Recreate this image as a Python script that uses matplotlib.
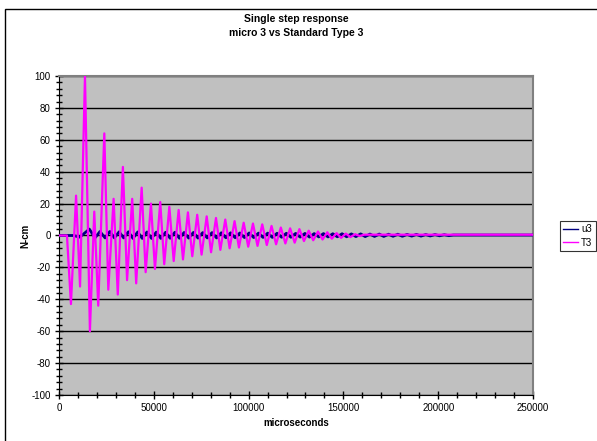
import numpy as np
import matplotlib
matplotlib.use("Agg")
import matplotlib.pyplot as plt
from matplotlib.patches import Rectangle
from matplotlib.ticker import MultipleLocator

plt.rcParams['font.family'] = ['Liberation Sans', 'DejaVu Sans']
plt.rcParams['axes.unicode_minus'] = False

# T3 (Standard Type 3) - turning points
t3_time = [0, 4200, 6300, 9000, 11100, 13700, 16300, 18600, 20700, 23900, 26000, 28800,
           31000, 33700, 35900, 38600, 40700, 43600, 45700, 48500, 50600, 53400,
           55500, 58200, 60500, 63100, 65400, 68000, 70300, 72900, 75200, 77900,
           80200, 82800, 85100, 87700, 90000, 92600, 94900, 97400, 99800, 102300,
           104700, 107200, 109600, 112100, 114500, 117000, 119400, 121900, 124300, 126800,
           129200, 131700, 134100, 136600, 139000, 141500, 143900, 146400, 148800, 151300,
           153700, 156200, 158600, 161000, 250000]
t3_val = [0, 0, -43, 25, -32, 100, -60, 15, -44, 64, -34, 23,
          -37, 43, -28, 23, -30, 30, -23, 20, -21, 21,
          -18, 18, -16, 16, -15, 14.5, -13, 13, -12, 12,
          -10.5, 11, -9, 10, -8, 9, -7.5, 8, -7, 7.5,
          -6.5, 7, -6, 6, -5.5, 5, -5, 4.5, -4.5, 4,
          -3.5, 3, -3, 2.5, -2.5, 2, -2, 1.5, -1.5, 1.2,
          -1, 0.8, -0.3, 0.5, 0.5]

# u3 (micro 3)
u3_time = [0, 7400, 11000, 16000, 19000, 21600, 24300, 26800, 29200, 31700, 34100,
           36600, 39000, 41500, 43900, 46400, 48800,
           51300, 53700, 56200, 58600, 61100, 63500, 66000, 68400, 70900, 73300,
           75800, 78200, 80700, 83100, 85600, 88000, 90500, 92900, 95400, 97800,
           100300, 102700, 105200, 107600, 110100, 112500, 115000, 117400, 119900, 122300,
           124800, 127200, 129700, 132100, 134600, 137000, 139500, 141900, 144400, 146800,
           149300, 151700, 154200, 156600, 159100, 161500, 164000, 166400, 168900, 171300,
           173800, 176200, 178700, 181100, 183600, 186000, 188500, 190900, 193400, 195800,
           198300, 200700, 203200, 205600, 208000, 250000]
u3_val = [0, 0, -1, 4, -1.5, 2.5, -1.5, 2.5, -1.5, 2.3, -1.5,
          2.3, -1.8, 2.2, -1.8, 2.2, -1.8,
          2.1, -1.8, 2.0, -1.7, 2.0, -1.7, 1.9, -1.6, 1.9, -1.6,
          1.8, -1.5, 1.8, -1.5, 1.7, -1.4, 1.7, -1.4, 1.6, -1.3,
          1.6, -1.3, 1.5, -1.2, 1.5, -1.2, 1.4, -1.1, 1.4, -1.1,
          1.3, -1.0, 1.3, -1.0, 1.2, -0.9, 1.2, -0.9, 1.1, -0.8,
          1.1, -0.8, 1.0, -0.7, 1.0, -0.7, 0.9, -0.6, 0.9, -0.6,
          0.8, -0.5, 0.8, -0.5, 0.7, -0.4, 0.7, -0.4, 0.6, -0.3,
          0.6, -0.2, 0.5, -0.1, 0.3, 0.3]

fig = plt.figure(figsize=(5.97, 4.41), dpi=100)
fig.patch.set_facecolor("white")
fig.patches.append(Rectangle((4.5 / 597, -0.1), 1.2, 1 - 8.5 / 441 + 0.1,
                             transform=fig.transFigure, fill=False,
                             edgecolor="black", linewidth=1))

ax = fig.add_axes([59 / 597, 1 - 395 / 441, (533 - 59) / 597, (395 - 76) / 441])
ax.set_facecolor("#C0C0C0")

ax.plot(u3_time, u3_val, color="#000080", linewidth=2.0, label="u3", zorder=3)
ax.plot(t3_time, t3_val, color="#FF00FF", linewidth=1.6, label="T3", zorder=4)

ax.set_xlim(0, 250000)
ax.set_ylim(-100, 100)
ax.xaxis.set_major_locator(MultipleLocator(50000))
ax.xaxis.set_minor_locator(MultipleLocator(10000))
ax.yaxis.set_major_locator(MultipleLocator(20))
ax.yaxis.set_minor_locator(MultipleLocator(4))
ax.grid(axis="y", which="major", color="black", linewidth=1)
ax.set_axisbelow(True)

ax.tick_params(which="major", direction="inout", length=6, width=1, labelsize=7, pad=3)
ax.tick_params(which="minor", direction="inout", length=4, width=1)
ax.spines["top"].set_color("#808080")
ax.spines["right"].set_color("#808080")
ax.spines["top"].set_linewidth(1.5)
ax.spines["right"].set_linewidth(1.5)

ax.set_xlabel("microseconds", fontsize=7, fontweight="bold", labelpad=3)
ax.set_ylabel("N-cm", fontsize=7, fontweight="bold", labelpad=1)

fig.text(296 / 597, 1 - 19 / 441, "Single step response", ha="center", va="center",
         fontsize=7.5, fontweight="bold")
fig.text(296 / 597, 1 - 33 / 441, "micro 3 vs Standard Type 3", ha="center", va="center",
         fontsize=7.5, fontweight="bold")

leg = fig.legend(loc="upper left", bbox_to_anchor=(560 / 597, 1 - 221 / 441),
                 fontsize=7, frameon=True, fancybox=False, edgecolor="black",
                 handlelength=1.5, handletextpad=0.3, borderpad=0.35, labelspacing=0.35,
                 borderaxespad=0)
leg.get_frame().set_linewidth(0.8)
for ln in leg.get_lines():
    ln.set_linewidth(1.0)

fig.savefig("out.png", dpi=100)
